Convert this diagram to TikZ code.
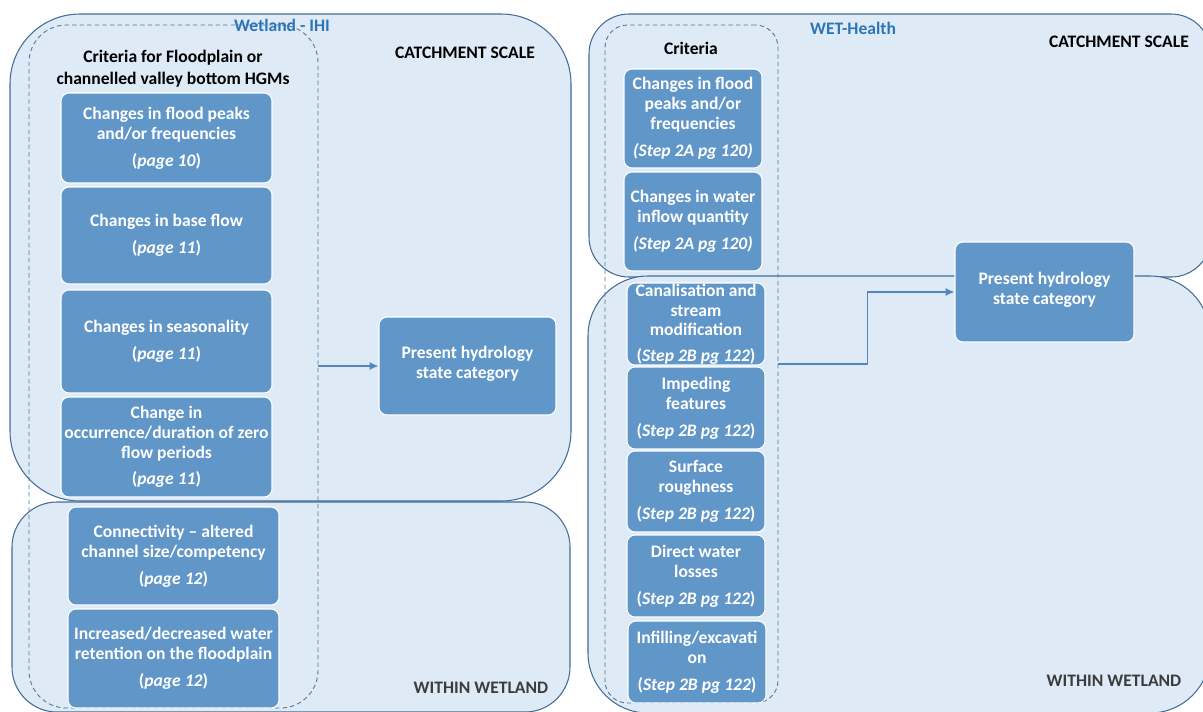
\documentclass[tikz,border=0pt]{standalone}
\usepackage{fontspec}
\setmainfont{Carlito}
\usetikzlibrary{arrows.meta}

\definecolor{fondzone}{RGB}{222,235,247}
\definecolor{bordzone}{RGB}{68,108,150}
\definecolor{bleubox}{RGB}{97,150,201}
\definecolor{tirets}{RGB}{84,116,152}
\definecolor{titrebleu}{RGB}{46,117,182}
\definecolor{fleche}{RGB}{82,134,192}
\definecolor{gristxt}{RGB}{60,60,60}

\newcommand{\pg}[1]{(\textit{page #1})}
\newcommand{\stpa}[1]{\textit{(Step #1)}}
\newcommand{\stpb}[1]{(\textit{Step #1})}

\tikzset{taille/.style 2 args={minimum width=#1*0.02cm,minimum height=#2*0.02cm}}

\begin{document}
\begin{tikzpicture}[x=0.02cm,y=-0.02cm]
%styles
\tikzstyle{zone}=[draw=bordzone,fill=fondzone,line width=0.6pt,inner sep=0pt]
\tikzstyle{critzone}=[draw=tirets,dash pattern=on 2.5pt off 1.8pt,line width=0.5pt,inner sep=0pt]
\tikzstyle{critbox}=[fill=bleubox,draw=white,line width=0.6pt,rounded corners=0.16cm,inner sep=0pt,
  align=center,text=white,font=\fontsize{10}{11.3}\selectfont\bfseries]
\tikzstyle{etiq}=[inner sep=1pt,font=\fontsize{10}{11.3}\selectfont\bfseries]
\tikzstyle{estun}=[-{Latex[length=5pt,width=4.5pt]},draw=fleche,line width=0.7pt]

\useasboundingbox (0,0) rectangle (1203,711);
\clip (0,0) rectangle (1203,711);

%Wetland - IHI
\node[zone,rounded corners=1.4cm,taille={561}{487}] (ihiC) at (290.5,257.5) {};
\node[zone,rounded corners=0.9cm,taille={558}{210}] (ihiW) at (291,607) {};
\node[critzone,rounded corners=0.75cm,taille={289}{683}] (ihiK) at (173.5,366.5) {};

\node[etiq,text=titrebleu] (ihiT) at (282,25) {Wetland - IHI};
\node[etiq] (ihiCS) at (465,53) {CATCHMENT SCALE};
\node[etiq,text=gristxt] (ihiWW) at (481,688) {WITHIN WETLAND};
\node[etiq,align=center,font=\fontsize{10}{12.6}\selectfont\bfseries] (ihiKT) at (173,68.5)
  {Criteria for Floodplain or\\channelled valley bottom HGMs};

\node[critbox,taille={211}{90}] (a1) at (166.5,138) {Changes in flood peaks\\and/or frequencies\\[4pt]\pg{10}};
\node[critbox,taille={211}{97}] (a2) at (166.5,235.5) {Changes in base flow\\[4pt]\pg{11}};
\node[critbox,taille={211}{103}] (a3) at (166.5,341.5) {Changes in seasonality\\[4pt]\pg{11}};
\node[critbox,taille={211}{100}] (a4) at (166.5,447) {Change in\\occurrence/duration of zero\\flow periods\\[4pt]\pg{11}};
\node[critbox,taille={211}{98}] (a5) at (173.5,556) {Connectivity -- altered\\channel size/competency\\[4pt]\pg{12}};
\node[critbox,taille={211}{99}] (a6) at (173.5,658.5) {Increased/decreased water\\retention on the floodplain\\[4pt]\pg{12}};

\node[critbox,taille={177}{98}] (pres1) at (467.5,366) {Present hydrology\\state category\\[-7pt]\mbox{}};
\draw[estun] (ihiK.east |- pres1.west) -- (pres1.west);

%WET-Health
\node[zone,rounded corners=0.8cm,taille={622}{263}] (wetC) at (900,145.5) {};
\node[zone,rounded corners=1.2cm,taille={622}{437}] (wetW) at (899,494.5) {};
\node[critzone,rounded corners=0.45cm,taille={173}{678}] (wetK) at (691.5,364) {};

\node[etiq,text=titrebleu] (wetT) at (853,28) {WET-Health};
\node[etiq] (wetCS) at (1119,42) {CATCHMENT SCALE};
\node[etiq,text=gristxt] (wetWW) at (1114,681) {WITHIN WETLAND};
\node[etiq] (wetKT) at (691,48) {Criteria};

\node[critbox,taille={138}{99}] (b1) at (693,118.5) {Changes in flood\\peaks and/or\\frequencies\\[4pt]\stpa{2A pg 120}};
\node[critbox,taille={138}{99}] (b2) at (693,221.5) {Changes in water\\inflow quantity\\[4pt]\stpa{2A pg 120}};
\node[critbox,taille={138}{82}] (b3) at (696,324) {Canalisation and\\stream\\modification\\[3pt]\stpb{2B pg 122}};
\node[critbox,taille={138}{82}] (b4) at (696,408) {Impeding\\features\\[4pt]\stpb{2B pg 122}};
\node[critbox,taille={138}{81}] (b5) at (696,491.5) {Surface\\roughness\\[4pt]\stpb{2B pg 122}};
\node[critbox,taille={138}{82}] (b6) at (696,576) {Direct water\\losses\\[4pt]\stpb{2B pg 122}};
\node[critbox,taille={138}{82}] (b7) at (697,662) {Infilling/excavati\\on\\[4pt]\stpb{2B pg 122}};

\node[critbox,taille={179}{100}] (pres2) at (1044.5,292) {Present hydrology\\state category\\[-7pt]\mbox{}};
\draw[estun] (wetK.east) -- ++(89,0) |- (pres2.west);

\end{tikzpicture}
\end{document}
